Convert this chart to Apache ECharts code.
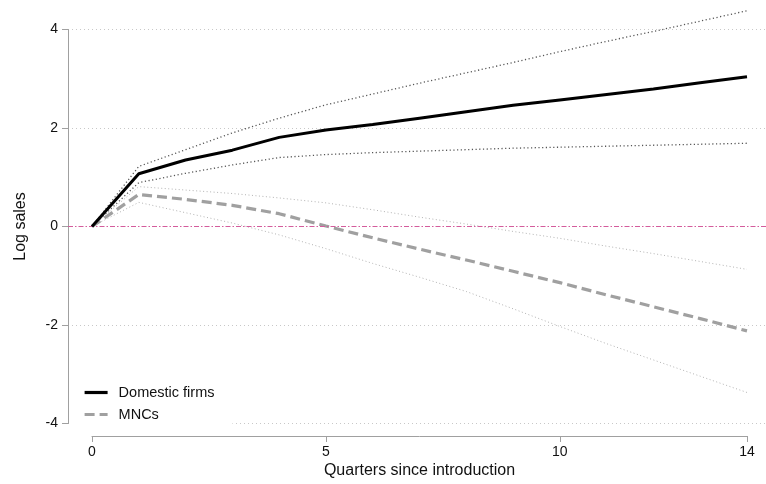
<!DOCTYPE html>
<html><head><meta charset="utf-8">
<script src="https://cdn.jsdelivr.net/npm/echarts@6/dist/echarts.min.js"></script>
<style>html,body{margin:0;padding:0;background:#fff}#c{width:766px;height:484px}</style>
</head><body><div id="c"></div>
<script>
var quarters = [0,1,2,3,4,5,6,7,8,9,10,11,12,13,14];
var domestic = [0, 1.07, 1.35, 1.55, 1.81, 1.96, 2.07, 2.2, 2.33, 2.46, 2.57, 2.68, 2.79, 2.92, 3.04];
var domesticUpper = [0, 1.22, 1.56, 1.9, 2.2, 2.47, 2.69, 2.91, 3.12, 3.33, 3.55, 3.76, 3.96, 4.17, 4.38];
var domesticLower = [0, 0.89, 1.08, 1.25, 1.4, 1.46, 1.5, 1.53, 1.56, 1.59, 1.61, 1.63, 1.65, 1.67, 1.69];
var mnc = [0, 0.65, 0.55, 0.43, 0.26, 0.01, -0.23, -0.46, -0.68, -0.91, -1.14, -1.39, -1.63, -1.87, -2.12];
var mncUpper = [0, 0.81, 0.74, 0.67, 0.58, 0.48, 0.34, 0.19, 0.05, -0.1, -0.24, -0.4, -0.55, -0.71, -0.87];
var mncLower = [0, 0.49, 0.28, 0.07, -0.17, -0.45, -0.75, -1.03, -1.32, -1.67, -2.03, -2.38, -2.71, -3.04, -3.37];
var xTicks = [0, 5, 10, 14];
var yTicks = [-4, -2, 0, 2, 4];

function pairs(v){ return quarters.map(function(q,i){ return [q, v[i]]; }); }
var FONT = 'Liberation Sans, Arial, Helvetica, sans-serif';
var pxPerUnit = (747 - 92) / 14;
var xMin = -(92 - 68) / pxPerUnit;
var xMax = xMin + (766 - 68) / pxPerUnit;

var chart = echarts.init(document.getElementById('c'));
chart.setOption({
  animation: false,
  backgroundColor: '#fff',
  textStyle: { fontFamily: FONT },
  grid: [
    { left: 68, right: 0, top: 29.5, bottom: 60.5 },
    { left: 92, right: 19, top: 436, height: 0 }
  ],
  xAxis: [
    { gridIndex: 0, type: 'value', min: xMin, max: xMax, show: false },
    { gridIndex: 1, type: 'value', min: 0, max: 14,
      axisLine: { show: true, onZero: false, lineStyle: { color: '#a0a0a0', width: 1 } },
      axisTick: { show: true, length: 6, lineStyle: { color: '#a0a0a0' }, customValues: xTicks },
      axisLabel: { color: '#111', fontSize: 14, fontFamily: FONT, margin: 9, customValues: xTicks },
      splitLine: { show: false },
      name: 'Quarters since introduction', nameLocation: 'middle', nameGap: 27,
      nameTextStyle: { color: '#111', fontSize: 16, fontFamily: FONT } }
  ],
  yAxis: [
    { gridIndex: 0, type: 'value', min: -4, max: 4, interval: 2,
      axisLine: { show: true, onZero: false, lineStyle: { color: '#a0a0a0', width: 1 } },
      axisTick: { show: true, length: 6, lineStyle: { color: '#a0a0a0' } },
      axisLabel: { color: '#111', fontSize: 14, fontFamily: FONT, margin: 10 },
      splitLine: { show: true, lineStyle: { color: ['#c8c8c8','#c8c8c8','rgba(0,0,0,0)','#c8c8c8','#c8c8c8'], type: [1, 3], width: 1 } },
      name: 'Log sales', nameLocation: 'middle', nameGap: 39, nameRotate: 90,
      nameTextStyle: { color: '#111', fontSize: 16, fontFamily: FONT } },
    { gridIndex: 1, type: 'value', show: false }
  ],
  legend: {
    data: ['Domestic firms', 'MNCs'],
    orient: 'vertical', left: 70, top: 378,
    padding: [7, 18, 5, 13],
    backgroundColor: '#fff',
    itemWidth: 23, itemHeight: 14, itemGap: 7,
    itemStyle: { opacity: 0 },
    lineStyle: { width: 3.2 },
    textStyle: { color: '#111', fontSize: 14.5, fontFamily: FONT, padding: [0, 0, 0, 6] }
  },
  series: [
    { name: 'MNC upper', type: 'line', data: pairs(mncUpper), symbol: 'none', silent: true,
      lineStyle: { color: '#b4b4b4', width: 1, type: [1, 2.5] }, z: 2,
      markLine: { silent: true, symbol: 'none', label: { show: false },
        lineStyle: { color: '#d45c9c', width: 1.1, type: [5, 2, 1.5, 2] },
        data: [{ yAxis: 0 }] } },
    { name: 'MNC lower', type: 'line', data: pairs(mncLower), symbol: 'none', silent: true, clip: false,
      lineStyle: { color: '#b4b4b4', width: 1, type: [1, 2.5] }, z: 2 },
    { name: 'Domestic upper', type: 'line', data: pairs(domesticUpper), symbol: 'none', silent: true, clip: false,
      lineStyle: { color: '#555', width: 1.3, type: [1.2, 2.5] }, z: 3 },
    { name: 'Domestic lower', type: 'line', data: pairs(domesticLower), symbol: 'none', silent: true,
      lineStyle: { color: '#555', width: 1.3, type: [1.2, 2.5] }, z: 3 },
    { name: 'MNCs', type: 'line', data: pairs(mnc), symbol: 'none',
      itemStyle: { color: '#a0a0a0' },
      lineStyle: { color: '#a0a0a0', width: 3.2, type: [10, 5] }, z: 4 },
    { name: 'Domestic firms', type: 'line', data: pairs(domestic), symbol: 'none',
      itemStyle: { color: '#000' },
      lineStyle: { color: '#000', width: 3, type: 'solid' }, z: 5 }
  ]
});
</script></body></html>
